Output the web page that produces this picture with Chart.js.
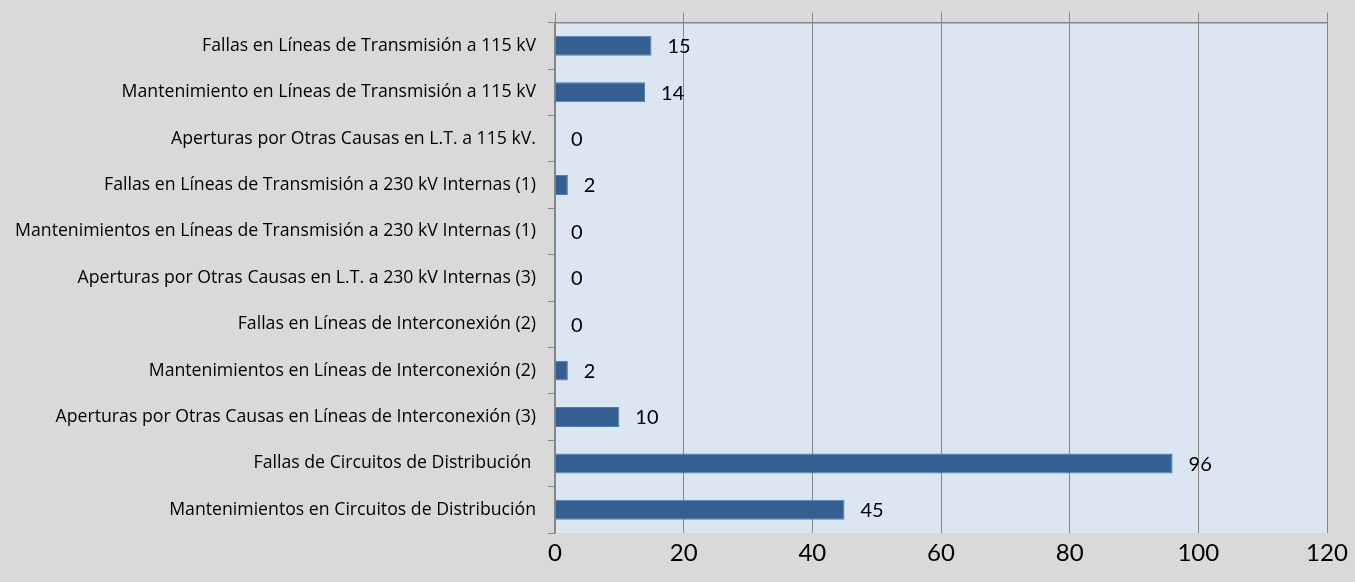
<!DOCTYPE html>
<html lang="es">
<head>
<meta charset="UTF-8">
<title>Aperturas</title>
<script src="https://cdn.jsdelivr.net/npm/chart.js"></script>
<style>
  html, body { margin: 0; padding: 0; background: #d9d9d9; }
  #wrap { width: 1355px; height: 582px; }
</style>
</head>
<body>
<div id="wrap"><canvas id="myChart"></canvas></div>
<script>
const categories = [
    "Fallas en Líneas de Transmisión a 115 kV",
    "Mantenimiento en Líneas de Transmisión a 115 kV",
    "Aperturas por Otras Causas en L.T. a 115 kV.",
    "Fallas en Líneas de Transmisión a 230 kV Internas (1)",
    "Mantenimientos en Líneas de Transmisión a 230 kV Internas (1)",
    "Aperturas por Otras Causas en L.T. a 230 kV Internas (3)",
    "Fallas en Líneas de Interconexión (2)",
    "Mantenimientos en Líneas de Interconexión (2)",
    "Aperturas por Otras Causas en Líneas de Interconexión (3)",
    "Fallas de Circuitos de Distribución ",
    "Mantenimientos en Circuitos de Distribución"
];
const values = [15, 14, 0, 2, 0, 0, 0, 2, 10, 96, 45];
const axisMin = 0, axisMax = 120, axisStep = 20;

const gridColor = '#868686';

// fondo del area de trazado
const plotBg = {
    id: 'plotBg',
    beforeDraw(chart) {
        const a = chart.chartArea, ctx = chart.ctx;
        ctx.save();
        ctx.fillStyle = '#dce6f2';
        ctx.fillRect(a.left, a.top, a.right - a.left, a.bottom - a.top);
        ctx.restore();
    }
};

// etiquetas de valor a la derecha de cada barra
const valueLabels = {
    id: 'valueLabels',
    afterDatasetsDraw(chart) {
        const ctx = chart.ctx;
        const meta = chart.getDatasetMeta(0);
        ctx.save();
        ctx.font = '20px Lato';
        ctx.fillStyle = '#000';
        ctx.textAlign = 'left';
        ctx.textBaseline = 'middle';
        meta.data.forEach((bar, i) => {
            ctx.fillText(String(values[i]), bar.x + 16, bar.y + 1);
        });
        ctx.restore();
    }
};

new Chart(document.getElementById('myChart'), {
    type: 'bar',
    data: {
        labels: categories,
        datasets: [{
            data: values,
            backgroundColor: '#365f91',
            borderColor: '#4a7ebb',
            borderWidth: 1,
            barPercentage: 0.43,
            categoryPercentage: 1
        }]
    },
    options: {
        indexAxis: 'y',
        responsive: true,
        maintainAspectRatio: false,
        animation: false,
        layout: { padding: { top: 12, right: 28, left: 0, bottom: 0 } },
        plugins: {
            legend: { display: false },
            tooltip: { enabled: false }
        },
        scales: {
            x: {
                position: 'bottom',
                min: axisMin, max: axisMax,
                ticks: { stepSize: axisStep, color: '#000', font: { family: 'Lato', size: 24 }, padding: 6 },
                grid: { color: gridColor, lineWidth: 1, drawTicks: false },
                border: { display: false },
                afterFit(scale) { scale.height = 49; }
            },
            xTop: {
                position: 'top',
                axis: 'x',
                min: axisMin, max: axisMax,
                ticks: { display: false, stepSize: axisStep },
                grid: { color: gridColor, drawOnChartArea: false, drawTicks: true, tickLength: 10 },
                border: { display: true, color: gridColor, width: 1.5 }
            },
            y: {
                ticks: { color: '#000', font: { family: 'Open Sans', size: 17.7 }, padding: 12, autoSkip: false },
                grid: { color: gridColor, drawOnChartArea: false, drawTicks: true, tickLength: 7, offset: true },
                border: { display: true, color: gridColor, width: 1.5 },
                afterFit(scale) { scale.width = 555; }
            }
        }
    },
    plugins: [plotBg, valueLabels]
});
</script>
</body>
</html>
